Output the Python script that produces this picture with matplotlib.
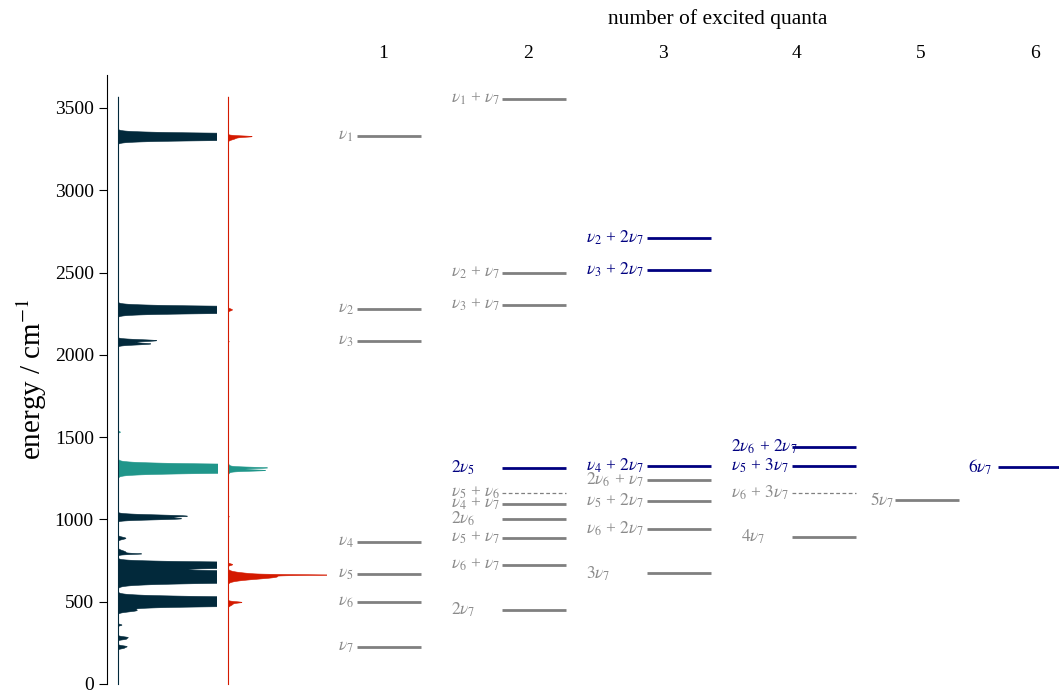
import numpy as np
import matplotlib
matplotlib.use("Agg")
import matplotlib.pyplot as plt

plt.rcParams["font.family"] = ["Liberation Serif", "DejaVu Serif"]
plt.rcParams["mathtext.fontset"] = "stix"

# spectrum bands: centre (cm-1), peak height (1 = panel width), width (cm-1)
ir_centre = [3324, 2273, 2086, 2066, 1533, 1311, 1020, 1003, 885, 790, 800,
             722, 650, 500, 446, 358, 282, 272, 227, 217]
ir_height = [6.0, 6.0, 0.39, 0.33, 0.02, 8.0, 0.69, 0.6, 0.08, 0.19, 0.08,
             5.0, 10.0, 8.0, 0.18, 0.04, 0.10, 0.07, 0.09, 0.05]
ir_width = [12, 12, 6, 6, 3, 14, 7, 6, 7, 3, 10,
            11, 18, 15, 8, 4, 5, 4, 5, 4]

ra_centre = [3326, 3316, 2273, 2080, 1316, 1300, 1308, 1017, 725, 662, 652, 496, 486]
ra_height = [0.20, 0.08, 0.045, 0.012, 0.33, 0.31, 0.08, 0.012, 0.047, 0.60, 0.50, 0.11, 0.05]
ra_width = [4, 9, 6, 3, 4, 4, 12, 4, 5, 2.5, 15, 4, 10]

teal_band = (1200, 1600)

# energy levels per number of excited quanta
col_labels = [
    [r"$\nu_1$", r"$\nu_2$", r"$\nu_3$", r"$\nu_4$", r"$\nu_5$", r"$\nu_6$", r"$\nu_7$"],
    [r"$\nu_1$ + $\nu_7$", r"$\nu_2$ + $\nu_7$", r"$\nu_3$ + $\nu_7$", r"$2\nu_5$",
     r"$\nu_5$ + $\nu_6$", r"$\nu_4$ + $\nu_7$", r"$2\nu_6$", r"$\nu_5$ + $\nu_7$",
     r"$\nu_6$ + $\nu_7$", r"$2\nu_7$"],
    [r"$\nu_2$ + $2\nu_7$", r"$\nu_3$ + $2\nu_7$", r"$\nu_4$ + $2\nu_7$", r"$2\nu_6$ + $\nu_7$",
     r"$\nu_5$ + $2\nu_7$", r"$\nu_6$ + $2\nu_7$", r"$3\nu_7$"],
    [r"$2\nu_6$ + $2\nu_7$", r"$\nu_5$ + $3\nu_7$", r"$\nu_6$ + $3\nu_7$", r"$4\nu_7$"],
    [r"$5\nu_7$"],
    [r"$6\nu_7$"],
]
col_energy = [
    [3332, 2278, 2084, 865, 666, 500, 223],
    [3555, 2499, 2303, 1311, 1159, 1092, 1001, 889, 723, 448],
    [2712, 2516, 1327, 1240, 1112, 944, 672],
    [1442, 1327, 1163, 895],
    [1118],
    [1317],
]
resonant = {r"$2\nu_5$", r"$\nu_2$ + $2\nu_7$", r"$\nu_3$ + $2\nu_7$", r"$\nu_4$ + $2\nu_7$",
            r"$2\nu_6$ + $2\nu_7$", r"$\nu_5$ + $3\nu_7$", r"$6\nu_7$"}
dashed = {r"$\nu_5$ + $\nu_6$", r"$\nu_6$ + $3\nu_7$"}
quanta = ["1", "2", "3", "4", "5", "6"]

# layout (pixel units of the figure)
W, H = 1059, 693
line_x = [357, 502, 647, 792, 895, 998]
label_x = [338, 451, 586, 731, 870, 968]
head_x = [383, 528, 663, 797, 921, 1035]
line_w = 64
nudge = {r"$4\nu_7$": 10}

dark = "#02293b"
teal = "#20968a"
red = "#d41a00"
grey = "#808080"
blue = "#000080"

fig = plt.figure(figsize=(W / 100, H / 100), dpi=100)
bottom, height = 9 / H, 609 / H
ax = fig.add_axes([107 / W, bottom, (W - 107) / W, height])
ax.set_xlim(107, W)
ax.set_ylim(0, 3700)
for s in ["top", "right", "bottom"]:
    ax.spines[s].set_visible(False)
ax.set_xticks([])
ax.set_yticks(np.arange(0, 3501, 500))
ax.tick_params(axis="y", labelsize=14, length=6, direction="out")
ax.set_ylabel(r"energy / cm$^{-1}$", fontsize=21, labelpad=4)


def band(e, centre, hgt, wid):
    out = np.zeros_like(e)
    for c, h, w in zip(centre, hgt, wid):
        out += h * np.exp(-0.5 * ((e - c) / w) ** 2)
    return out


e = np.linspace(0, 3567, 8000)
in_teal = (e >= teal_band[0]) & (e <= teal_band[1])
for left, (cen, hgt, wid), base_col in [
    (118, (ir_centre, ir_height, ir_width), dark),
    (228, (ra_centre, ra_height, ra_width), red),
]:
    sa = fig.add_axes([left / W, bottom, 99 / W, height])
    sa.set_xlim(0, 1)
    sa.set_ylim(0, 3700)
    sa.axis("off")
    y = band(e, cen, hgt, wid)
    sa.fill_betweenx(e, 0, y, where=~in_teal, color=base_col, lw=0.4, edgecolor=base_col)
    sa.fill_betweenx(e, 0, y, where=in_teal, color=teal, lw=0.4, edgecolor=teal)
    sa.plot([0, 0], [0, 3567], color=base_col, lw=0.8, clip_on=False)

for k in range(len(col_labels)):
    for lab, en in zip(col_labels[k], col_energy[k]):
        c = blue if lab in resonant else grey
        if lab in dashed:
            ax.plot([line_x[k], line_x[k] + line_w], [en, en], color=grey, lw=0.9,
                    dashes=(3, 2))
        else:
            ax.plot([line_x[k], line_x[k] + line_w + (20 if k == 5 else 0)], [en, en],
                    color=c, lw=2.0, solid_capstyle="butt")
        ax.text(label_x[k] + nudge.get(lab, 0), en, lab, color=c if c == blue else "#8a8a8a",
                fontsize=12.5, ha="left", va="center")
    fig.text(head_x[k] / W, 1 - 53 / H, quanta[k], fontsize=14, ha="center", va="center")

fig.text(718 / W, 1 - 19 / H, "number of excited quanta", fontsize=15.5, ha="center", va="center")

fig.savefig("out.png", dpi=100)
